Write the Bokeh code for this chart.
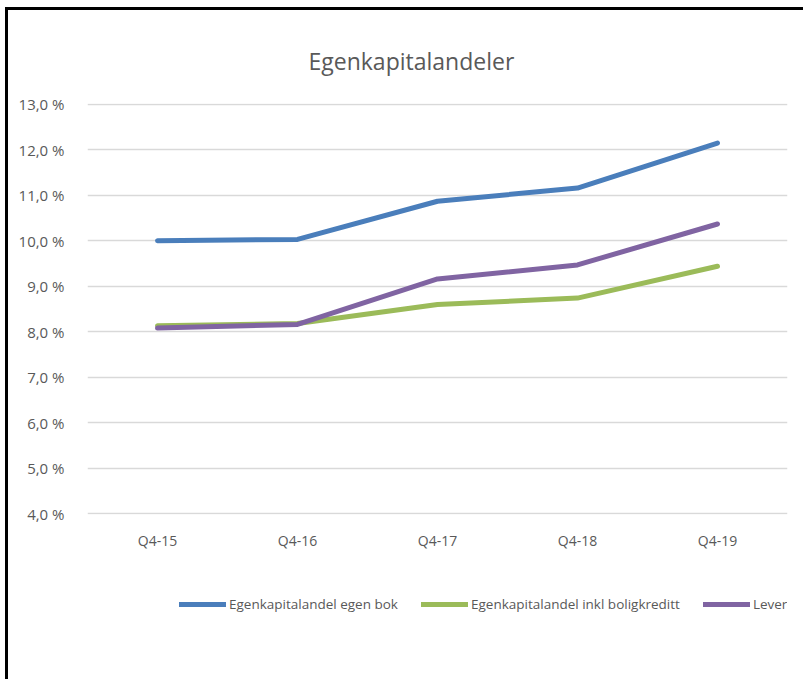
from bokeh.plotting import figure
from bokeh.models import Range1d, Legend, LegendItem, FactorRange
from bokeh.layouts import column
from bokeh.embed import file_html
from bokeh.resources import INLINE

categories = ["Q4-15", "Q4-16", "Q4-17", "Q4-18", "Q4-19"]
egen_bok = [10.0, 10.03, 10.87, 11.16, 12.15]
inkl_boligkreditt = [8.13, 8.18, 8.60, 8.74, 9.44]
leverage_ratio = [8.08, 8.16, 9.16, 9.47, 10.37]
series_names = ["Egenkapitalandel egen bok", "Egenkapitalandel inkl boligkreditt", "Leverage ratio (LR)"]
y_ticks = [4, 5, 6, 7, 8, 9, 10, 11, 12, 13]
y_tick_labels = ["4,0 %", "5,0 %", "6,0 %", "7,0 %", "8,0 %", "9,0 %", "10,0 %", "11,0 %", "12,0 %", "13,0 %"]

FONT = "Open Sans"
GREY = "#595959"
colors = ["#4A7EBB", "#9BBB59", "#8064A2"]
series = [egen_bok, inkl_boligkreditt, leverage_ratio]

x_range = FactorRange(*categories)

p = figure(width=795, height=560, x_range=x_range, y_range=Range1d(3.98, 13.02),
           output_backend="svg", toolbar_location=None,
           min_border_left=79, min_border_right=16, min_border_top=93, min_border_bottom=56)
p.outline_line_color = None
p.background_fill_color = "white"
p.border_fill_color = "white"

p.title.text = "Egenkapitalandeler"
p.title.align = "left"
p.title.offset = 221
p.title.text_font = FONT
p.title.text_font_size = "23px"
p.title.text_font_style = "normal"
p.title.text_color = GREY
p.title.standoff = 53

for vals, c in zip(series, colors):
    p.line(categories, vals, line_color=c, line_width=5, line_cap="round", line_join="round")

p.xgrid.grid_line_color = None
p.ygrid.grid_line_color = "#D9D9D9"
p.ygrid.grid_line_width = 1.5
p.yaxis.ticker = y_ticks
p.yaxis.major_label_overrides = {t: l for t, l in zip(y_ticks, y_tick_labels)}

for ax in (p.xaxis, p.yaxis):
    ax.axis_line_color = None
    ax.major_tick_line_color = None
    ax.minor_tick_line_color = None
    ax.major_label_text_font = FONT
    ax.major_label_text_color = GREY
p.yaxis.major_label_text_font_size = "15px"
p.yaxis.major_label_standoff = 17
p.xaxis.major_label_text_font_size = "14px"
p.xaxis.major_label_standoff = 10

# Legend strip below the chart
p2 = figure(width=795, height=109, x_range=x_range, y_range=Range1d(0, 1),
            output_backend="svg", toolbar_location=None,
            x_axis_type=None, y_axis_type=None,
            min_border_left=0, min_border_right=0, min_border_top=0, min_border_bottom=0)
p2.outline_line_color = None
p2.xgrid.grid_line_color = None
p2.ygrid.grid_line_color = None
p2.background_fill_color = "white"
p2.border_fill_color = "white"

renderers = []
for vals, c in zip(series, colors):
    r = p2.line(categories, vals, line_color=c, line_width=5, line_cap="round")
    renderers.append(r)

legend = Legend(items=[LegendItem(label=n, renderers=[r]) for n, r in zip(series_names, renderers)],
                orientation="horizontal", location=(92, 65))
legend.border_line_color = None
legend.background_fill_alpha = 0
legend.padding = 0
legend.margin = 0
legend.spacing = 23
legend.label_standoff = 3
legend.glyph_width = 47
legend.label_text_font = FONT
legend.label_text_font_size = "13.5px"
legend.label_text_color = GREY
p2.add_layout(legend, "center")

layout = column(p, p2, spacing=0)
layout.styles = {"border-left": "3px solid black", "border-top": "3px solid black",
                 "margin-left": "5px", "margin-top": "7px"}

open("out.html", "w").write(file_html(layout, INLINE))
